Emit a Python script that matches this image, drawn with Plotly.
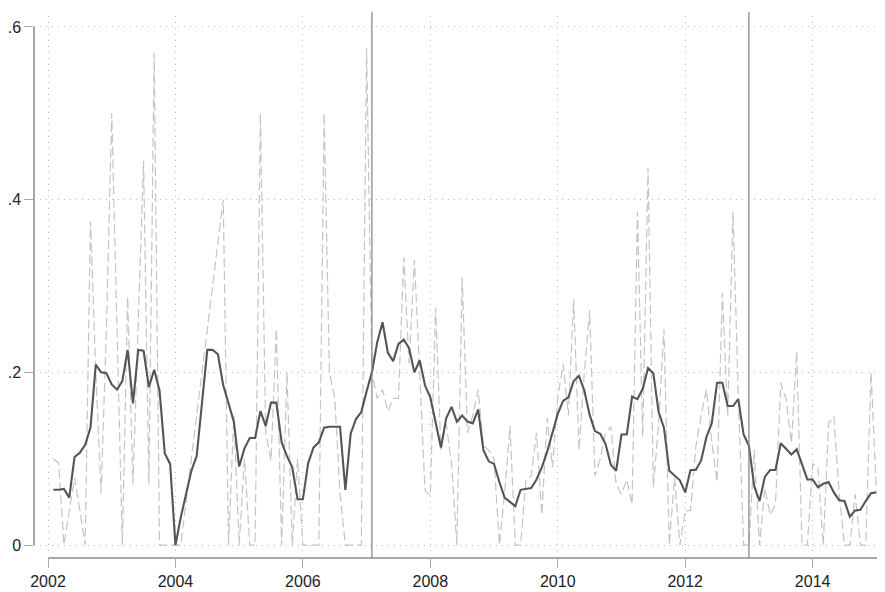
import plotly.graph_objects as go

# ---------------- data ----------------
start_year = 2002
month_index = list(range(1, 157))          # months after Jan 2002 (monthly series)
dates = [start_year + m / 12 for m in month_index]

smoothed = [
    0.064, 0.064, 0.065, 0.055, 0.102, 0.107, 0.116, 0.136, 0.209, 0.200, 0.199, 0.186,
    0.180, 0.190, 0.226, 0.164, 0.226, 0.225, 0.183, 0.203, 0.179, 0.106, 0.094, 0.000,
    0.032, 0.059, 0.086, 0.103, 0.161, 0.226, 0.226, 0.221, 0.185, 0.163, 0.143, 0.091,
    0.112, 0.124, 0.124, 0.155, 0.138, 0.165, 0.165, 0.119, 0.103, 0.090, 0.053, 0.053,
    0.095, 0.113, 0.119, 0.136, 0.137, 0.137, 0.137, 0.064, 0.129, 0.146, 0.154, 0.178,
    0.200, 0.235, 0.258, 0.223, 0.213, 0.233, 0.238, 0.228, 0.200, 0.214, 0.185, 0.171,
    0.140, 0.113, 0.147, 0.160, 0.143, 0.150, 0.143, 0.141, 0.157, 0.110, 0.097, 0.094,
    0.073, 0.055, 0.050, 0.045, 0.064, 0.065, 0.066, 0.076, 0.090, 0.108, 0.129, 0.152,
    0.167, 0.171, 0.190, 0.196, 0.179, 0.151, 0.132, 0.129, 0.117, 0.093, 0.086, 0.128,
    0.128, 0.172, 0.169, 0.181, 0.205, 0.199, 0.154, 0.136, 0.086, 0.081, 0.075, 0.061,
    0.087, 0.087, 0.098, 0.125, 0.141, 0.188, 0.188, 0.161, 0.161, 0.169, 0.128, 0.115,
    0.068, 0.051, 0.079, 0.087, 0.087, 0.118, 0.111, 0.105, 0.111, 0.094, 0.076, 0.076,
    0.067, 0.071, 0.073, 0.061, 0.052, 0.051, 0.033, 0.040, 0.041, 0.051, 0.060, 0.061,
]

raw = [
    0.100, 0.095, 0.000, 0.040, 0.078, 0.040, 0.000, 0.375, 0.200, 0.060, 0.250, 0.500,
    0.250, 0.000, 0.287, 0.070, 0.260, 0.445, 0.070, 0.570, 0.000, 0.000, 0.000, 0.000,
    0.000, None, None, None, None, None, None, None, 0.400, 0.000, 0.150, 0.000,
    0.100, 0.000, 0.000, 0.500, 0.130, 0.098, 0.250, 0.000, 0.200, 0.000, 0.100, 0.000,
    0.000, 0.000, 0.000, 0.500, 0.200, 0.170, 0.060, 0.000, 0.000, 0.000, 0.000, 0.575,
    0.200, 0.170, 0.180, 0.155, 0.170, 0.170, 0.333, 0.210, 0.330, 0.200, 0.063, 0.057,
    0.275, 0.110, 0.140, 0.094, 0.000, 0.310, 0.130, 0.150, 0.180, 0.115, 0.110, 0.100,
    0.000, 0.060, 0.138, 0.000, 0.000, 0.075, 0.080, 0.130, 0.035, 0.147, 0.090, 0.170,
    0.210, 0.150, 0.285, 0.110, 0.200, 0.272, 0.080, 0.100, 0.130, 0.137, 0.070, 0.059,
    0.076, 0.047, 0.386, 0.125, 0.437, 0.067, 0.141, 0.250, 0.000, 0.078, 0.000, 0.040,
    0.040, 0.114, 0.150, 0.180, 0.120, 0.073, 0.292, 0.149, 0.386, 0.173, 0.000, 0.000,
    0.110, 0.000, 0.066, 0.035, 0.047, 0.188, 0.169, 0.118, 0.224, 0.000, 0.000, 0.094,
    0.090, 0.000, 0.141, 0.149, 0.059, 0.000, 0.000, 0.059, 0.000, 0.000, 0.200, 0.063,
]

event_dates = [2007 + 1 / 12, 2013.0]

x_ticks = [2002, 2004, 2006, 2008, 2010, 2012, 2014]
y_ticks = [0, 0.2, 0.4, 0.6]
y_tick_labels = ["0", ".2", ".4", ".6"]

# ---------------- layout geometry ----------------
# The page body has an 8px default margin, so the figure is made 8px smaller
# and all screen positions below are expressed relative to the figure.
OFF = 8
W, H = 885 - OFF, 592 - OFF


def p(v):
    return v - OFF


L, R, T, B = p(34), p(885), p(12), p(558)   # paper area
px_per_year = 63.72
x_at_2002 = p(48)
px_per_unit = 870.0
y_at_0 = p(545)
PW, PH = R - L, B - T


def xval(px):
    return 2002 + (px - x_at_2002) / px_per_year


def yval(py):
    return (y_at_0 - py) / px_per_unit


def xdom(px):
    return (px - L) / PW


def ydom(py):
    return (B - py) / PH


fig = go.Figure()

fig.add_trace(go.Scatter(
    x=dates, y=raw, mode="lines", connectgaps=True,
    line=dict(color="#c4c4c4", width=1.2, dash="9px,4px"),
    hoverinfo="skip", showlegend=False,
))
fig.add_trace(go.Scatter(
    x=dates, y=smoothed, mode="lines",
    line=dict(color="#555555", width=2.1),
    hoverinfo="skip", showlegend=False,
))
# helper trace so the offset axes (x2 / y2) are drawn
fig.add_trace(go.Scatter(x=[None], y=[None], xaxis="x2", yaxis="y2",
                         mode="lines", showlegend=False, hoverinfo="skip"))

for d in event_dates:
    fig.add_shape(type="line", xref="x", yref="paper", x0=d, x1=d,
                  y0=0, y1=ydom(p(8)), line=dict(color="#8a8a8a", width=1.3),
                  layer="above")

grid_color = "#bdbdbd"
tick_font = dict(family="Liberation Sans, Arial, sans-serif", size=16, color="#222222")

fig.update_layout(
    width=W, height=H,
    margin=dict(l=L, r=W - R, t=T, b=H - B, pad=0),
    paper_bgcolor="white", plot_bgcolor="rgba(0,0,0,0)",
    xaxis=dict(domain=[0, 1], range=[xval(L), xval(R)], tickvals=x_ticks,
               showticklabels=False, ticks="", showgrid=True, gridcolor=grid_color,
               gridwidth=1, griddash="1px,5px", zeroline=False, showline=False),
    yaxis=dict(domain=[ydom(p(553)), 1], range=[yval(p(553)), yval(T)], tickvals=y_ticks,
               showticklabels=False, ticks="", showgrid=True, gridcolor=grid_color,
               gridwidth=1, griddash="1px,5px", zeroline=False, showline=False),
    xaxis2=dict(domain=[xdom(p(48)), xdom(p(881))], range=[2002, xval(p(881))],
                anchor="free", position=0, tickvals=x_ticks,
                ticktext=[str(v) for v in x_ticks], ticks="outside", ticklen=9,
                tickwidth=1.3, tickcolor="#a8a8a8", showline=True, linecolor="#a8a8a8",
                linewidth=1.5, showgrid=False, zeroline=False, tickfont=tick_font),
    yaxis2=dict(domain=[ydom(p(545)), ydom(p(23))], range=[0, 0.6], anchor="free",
                position=0, tickvals=y_ticks, ticktext=y_tick_labels,
                ticks="outside", ticklen=9, tickwidth=1.3, tickcolor="#a8a8a8",
                showline=True, linecolor="#a8a8a8", linewidth=1.5, showgrid=False,
                zeroline=False, tickfont=tick_font),
)

fig.write_html("out.html")
